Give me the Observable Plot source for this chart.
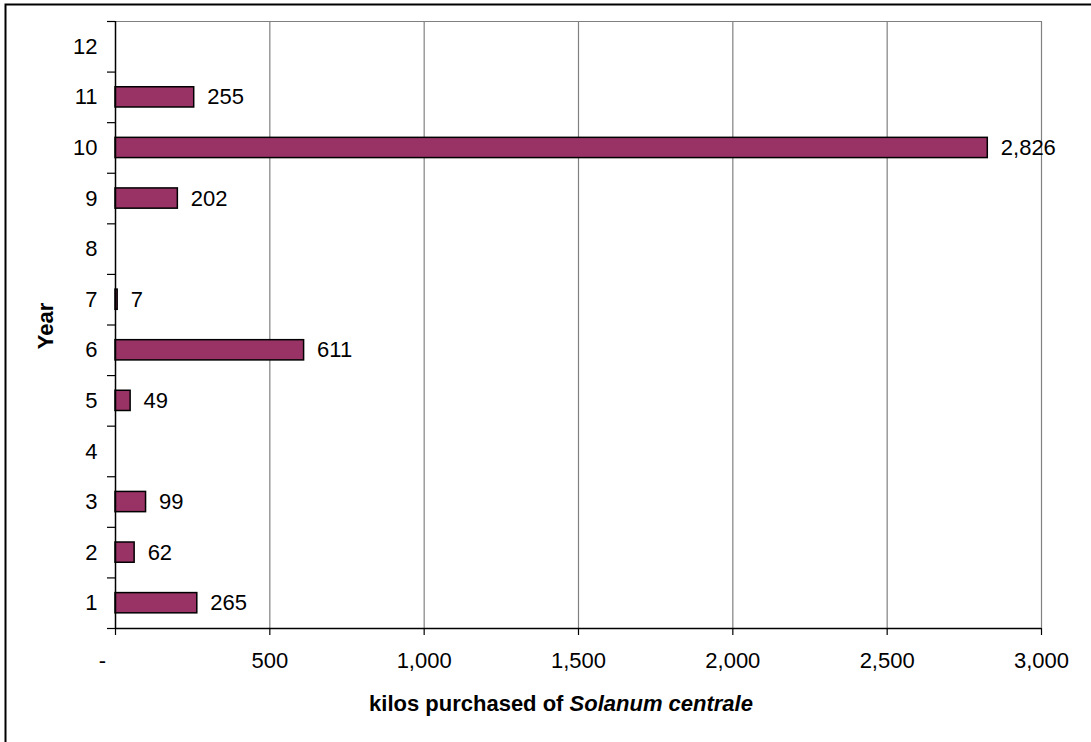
<!DOCTYPE html>
<html>
<head>
<meta charset="utf-8">
<script src="https://cdn.jsdelivr.net/npm/d3@7"></script>
<script src="https://cdn.jsdelivr.net/npm/@observablehq/plot@0.6"></script>
<style>
  html, body { margin: 0; padding: 0; background: #fff; }
  #chart svg { display: block; font-family: "Liberation Sans", Arial, sans-serif; }
</style>
</head>
<body>
<div id="chart"></div>
<script>
const years = [1, 2, 3, 4, 5, 6, 7, 8, 9, 10, 11, 12];
const kilos = [265, 62, 99, null, 49, 611, 7, null, 202, 2826, 255, null];
const xTicks = [0, 500, 1000, 1500, 2000, 2500, 3000];
const xTitleNormal = "kilos purchased of ";
const xTitleItalic = "Solanum centrale";
const yTitle = "Year";

const data = years.map((y, i) => ({year: y, kilos: kilos[i]})).filter(d => d.kilos != null);
const boundaries = [0, ...years].map(y => y + 0.5);
const fmt = d3.format(",");
const FS = 22;

const chart = Plot.plot({
  width: 1091,
  height: 742,
  marginLeft: 115,
  marginRight: 50,
  marginTop: 21,
  marginBottom: 114,
  style: {fontSize: FS + "px", fontFamily: "'Liberation Sans', Arial, sans-serif", color: "#000", background: "#fff"},
  x: {domain: [0, 3000]},
  y: {domain: [0.5, 12.5]},
  marks: [
    Plot.ruleX(xTicks.slice(1), {stroke: "#808080", strokeWidth: 1.2, strokeOpacity: 1}),
    Plot.ruleY([12.5], {stroke: "#808080", strokeWidth: 1.2, strokeOpacity: 1}),
    Plot.rectX(data, {
      x1: 0,
      x2: "kilos",
      y1: d => d.year - 0.2,
      y2: d => d.year + 0.2,
      fill: "#993366",
      stroke: "#000",
      strokeWidth: 1.5
    }),
    Plot.text(data, {
      x: "kilos",
      y: "year",
      text: d => fmt(d.kilos),
      textAnchor: "start",
      dx: 13,
      fontSize: FS,
      fill: "#000"
    }),
    Plot.ruleX([0], {stroke: "#000", strokeWidth: 1.5}),
    Plot.ruleY([0.5], {stroke: "#000", strokeWidth: 1.5}),
    Plot.axisX(xTicks, {tickSize: 7, tickPadding: 17, fontSize: FS, tickFormat: d => d === 0 ? "" : fmt(d), label: null, stroke: "#000", strokeWidth: 1.2}),
    Plot.axisX([0], {tickSize: 0, tickPadding: 24, fontSize: FS, tickFormat: () => "-", label: null, dx: -13}),
    Plot.axisY(years, {tickSize: 0, tickPadding: 18, fontSize: FS, tickFormat: d => String(d), label: null}),
    Plot.axisY(boundaries, {tickSize: 8, tickFormat: () => "", label: null, stroke: "#000", strokeWidth: 1.2})
  ]
});

const svg = d3.select(chart);
// outer chart border
svg.insert("rect", ":first-child")
  .attr("x", 5.5).attr("y", 4.5)
  .attr("width", 3000).attr("height", 3000)
  .attr("fill", "none").attr("stroke", "#000").attr("stroke-width", 2);

// x-axis title with italic species name
const xt = svg.append("text")
  .attr("x", 561).attr("y", 711)
  .attr("text-anchor", "middle")
  .attr("font-size", FS).attr("font-weight", "bold").attr("fill", "#000");
xt.append("tspan").text(xTitleNormal);
xt.append("tspan").attr("font-style", "italic").text(xTitleItalic);

// y-axis title
svg.append("text")
  .attr("transform", "translate(53,326) rotate(-90)")
  .attr("text-anchor", "middle")
  .attr("font-size", FS).attr("font-weight", "bold").attr("fill", "#000")
  .text(yTitle);

document.getElementById("chart").appendChild(chart);
</script>
</body>
</html>
